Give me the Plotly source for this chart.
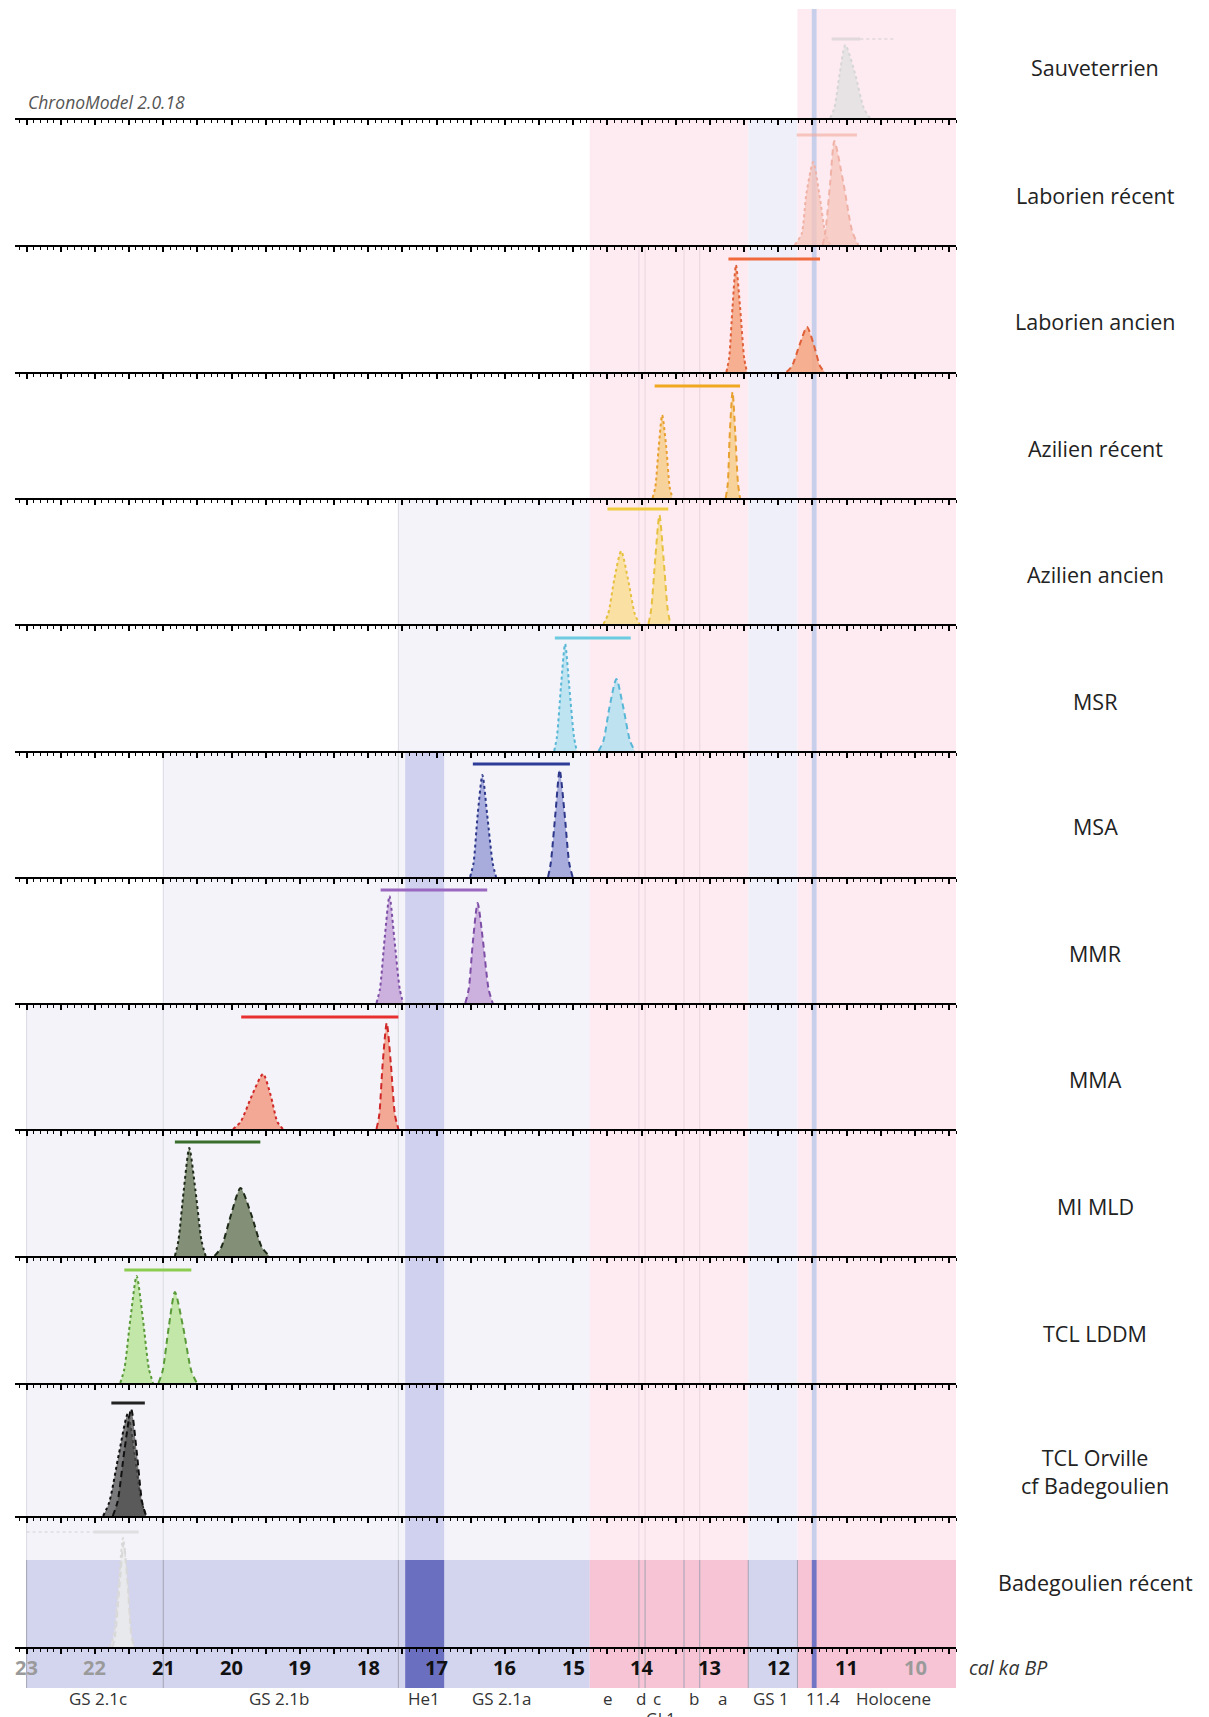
import plotly.graph_objects as go

# ---------------- data ----------------
phases = ["Sauveterrien", "Laborien récent", "Laborien ancien", "Azilien récent",
          "Azilien ancien", "MSR", "MSA", "MMR", "MMA", "MI MLD", "TCL LDDM",
          "TCL Orville<br>cf Badegoulien", "Badegoulien récent"]

# begin-of-phase densities (cal ka BP, relative density)
begin_x = [
    [11.24, 11.18, 11.10, 11.02, 10.88, 10.75, 10.66],
    [11.76, 11.66, 11.59, 11.49, 11.40, 11.31, 11.24],
    [12.76, 12.72, 12.67, 12.62, 12.56, 12.50, 12.46],
    [13.84, 13.80, 13.75, 13.70, 13.64, 13.59, 13.55],
    [14.56, 14.49, 14.40, 14.30, 14.20, 14.10, 14.03],
    [15.28, 15.24, 15.18, 15.12, 15.06, 14.99, 14.95],
    [16.51, 16.46, 16.40, 16.33, 16.26, 16.18, 16.13],
    [17.88, 17.83, 17.76, 17.69, 17.62, 17.54, 17.49],
    [19.98, 19.87, 19.70, 19.54, 19.43, 19.33, 19.25],
    [20.83, 20.78, 20.70, 20.62, 20.53, 20.44, 20.38],
    [21.63, 21.57, 21.48, 21.39, 21.30, 21.21, 21.15],
    [21.88, 21.79, 21.65, 21.52, 21.42, 21.32, 21.25],
    [21.78, 21.72, 21.65, 21.59, 21.53, 21.48, 21.44],
]
begin_y = [
    [0, 0.10, 0.45, 0.73, 0.45, 0.10, 0],
    [0, 0.11, 0.51, 0.83, 0.51, 0.11, 0],
    [0, 0.14, 0.65, 1.07, 0.65, 0.14, 0],
    [0, 0.11, 0.51, 0.83, 0.51, 0.11, 0],
    [0, 0.10, 0.45, 0.73, 0.45, 0.10, 0],
    [0, 0.14, 0.65, 1.07, 0.65, 0.14, 0],
    [0, 0.14, 0.62, 1.02, 0.62, 0.14, 0],
    [0, 0.14, 0.65, 1.07, 0.65, 0.14, 0],
    [0, 0.07, 0.34, 0.55, 0.34, 0.07, 0],
    [0, 0.15, 0.66, 1.08, 0.66, 0.15, 0],
    [0, 0.14, 0.65, 1.07, 0.65, 0.14, 0],
    [0, 0.14, 0.62, 1.02, 0.62, 0.14, 0],
    [0, 0.15, 0.66, 1.09, 0.66, 0.15, 0],
]
# end-of-phase densities
end_x = [
    None,
    [11.35, 11.31, 11.24, 11.18, 11.05, 10.92, 10.83],
    [11.88, 11.80, 11.69, 11.58, 11.48, 11.39, 11.32],
    [12.77, 12.74, 12.71, 12.67, 12.63, 12.59, 12.56],
    [13.90, 13.86, 13.80, 13.74, 13.68, 13.62, 13.58],
    [14.63, 14.56, 14.47, 14.37, 14.27, 14.17, 14.10],
    [15.37, 15.33, 15.26, 15.20, 15.13, 15.06, 15.01],
    [16.58, 16.53, 16.47, 16.40, 16.32, 16.24, 16.18],
    [17.88, 17.84, 17.79, 17.73, 17.67, 17.61, 17.56],
    [20.25, 20.15, 20.01, 19.87, 19.71, 19.56, 19.45],
    [21.07, 21.01, 20.92, 20.83, 20.71, 20.59, 20.51],
    [21.74, 21.67, 21.57, 21.47, 21.39, 21.31, 21.25],
    [21.74, 21.70, 21.64, 21.58, 21.52, 21.47, 21.43],
]
end_y = [
    None,
    [0, 0.14, 0.63, 1.04, 0.63, 0.14, 0],
    [0, 0.06, 0.27, 0.45, 0.27, 0.06, 0],
    [0, 0.14, 0.65, 1.06, 0.65, 0.14, 0],
    [0, 0.15, 0.66, 1.09, 0.66, 0.15, 0],
    [0, 0.10, 0.44, 0.72, 0.44, 0.10, 0],
    [0, 0.14, 0.65, 1.07, 0.65, 0.14, 0],
    [0, 0.14, 0.61, 1.00, 0.61, 0.14, 0],
    [0, 0.14, 0.65, 1.06, 0.65, 0.14, 0],
    [0, 0.09, 0.41, 0.68, 0.41, 0.09, 0],
    [0, 0.12, 0.56, 0.91, 0.56, 0.12, 0],
    [0, 0.14, 0.65, 1.07, 0.65, 0.14, 0],
    [0, 0.14, 0.62, 1.04, 0.62, 0.14, 0],
]
# phase duration intervals (cal ka BP)
bar_start = [11.22, 11.73, 12.73, 13.81, 14.50, 15.27, 16.47, 17.82, 19.86, 20.83, 21.57, 21.76, 22.02]
bar_end = [10.80, 10.85, 11.39, 12.56, 13.61, 14.16, 15.05, 16.26, 17.56, 19.58, 20.59, 21.27, 21.36]
bar_ext_start = [10.80, None, None, None, None, None, None, None, None, None, None, None, 23.00]
bar_ext_end = [10.29, None, None, None, None, None, None, None, None, None, None, None, 22.02]

# climate chronology (cal ka BP)
stadials = [(23.00, 14.76), (12.44, 11.72)]
interstadials = [(14.76, 12.44), (11.72, 9.00)]
he1 = (17.46, 16.89)
event_114 = (11.51, 11.44)
boundaries = [23.00, 21.00, 17.56]
gi1_boundaries = [14.04, 13.95, 13.38, 13.15]
row_start = [11.72, 14.76, 14.76, 14.76, 17.56, 17.56, 21.00, 21.00, 23.00, 23.00, 23.00, 23.00, 23.00]

tick_values = [23, 22, 21, 20, 19, 18, 17, 16, 15, 14, 13, 12, 11, 10]
period_names = ["GS 2.1c", "GS 2.1b", "He1", "GS 2.1a", "e", "d", "c", "b", "a", "GS 1", "11.4", "Holocene"]
period_ka = [21.95, 19.31, 17.19, 16.05, 14.49, 14.01, 13.78, 13.24, 12.81, 12.10, 11.34, 10.32]

# ---------------- style ----------------
line_col = ["#d6d6d6", "#f0b2a6", "#e0603a", "#e8a030", "#e6c040", "#58b6d6", "#2e388a",
            "#7e4ea6", "#d02828", "#1e2a18", "#5a9a38", "#111111", "#d8d8d8"]
fill_col = ["rgba(225,225,225,0.8)", "rgba(246,196,186,0.75)", "rgba(245,165,128,0.85)",
            "rgba(247,206,140,0.85)", "rgba(250,222,150,0.85)", "rgba(180,224,240,0.85)",
            "rgba(160,164,216,0.9)", "rgba(200,170,218,0.9)", "rgba(242,160,138,0.9)",
            "rgba(110,124,96,0.85)", "rgba(190,228,160,0.9)", "rgba(80,80,80,0.75)",
            "rgba(236,236,236,0.6)"]
bar_col = ["#cccccc", "#f2aa9c", "#f06a3c", "#f0a820", "#f2cc40", "#6ccbe0", "#2c3c98",
           "#9a68c0", "#e83030", "#3a6e2c", "#8ccc50", "#222222", "#c8c8c8"]
faded = [0.55, 0.6, 1, 1, 1, 1, 1, 1, 1, 1, 1, 1, 0.45]

PAGE_OFF = 8                      # default page margin around the figure
AXIS_PX = [118, 245, 372, 498, 624, 751, 877, 1003, 1129, 1256, 1383, 1516, 1647]  # page pixels
TOP_PX = 9
PLOT_BOTTOM = 1647                # page pixel of lowest axis
PLOT_H = PLOT_BOTTOM - PAGE_OFF   # plot area height (figure top margin 0)
PLOT_L, PLOT_R = 15, 956          # page pixels
PLOT_W = PLOT_R - PLOT_L
PX_PER_UNIT = 100.0
label_y = [0.5, 0.5, 0.5, 0.5, 0.5, 0.5, 0.5, 0.5, 0.5, 0.5, 0.5, 0.45, 0.65]
XR = [23.17, 9.40]
FONT = "Open Sans"


def py(page_y):
    return (PLOT_BOTTOM - page_y) / PLOT_H


def px(page_x):
    return (page_x - PLOT_L) / PLOT_W


ROW_STADIAL = "#f3f3f9"
ROW_GS1 = "#eeeff8"
ROW_INTER = "#fdebf1"
ROW_HE1 = "#cfd1ee"
ROW_EV = "#c8cfeb"
ROW_LINE = "#dadae4"
BAND_STADIAL = "#d3d4ee"
BAND_INTER = "#f6c4d4"
BAND_HE1 = "#6b6fbf"
BAND_EV = "#7075c4"
BAND_LINE = "#a4a4b4"

fig = go.Figure()
shapes = []
annotations = []
layout = {}

for i in range(13):
    idx = i + 1
    xs = "x" if idx == 1 else f"x{idx}"
    ys = "y" if idx == 1 else f"y{idx}"
    top_px = TOP_PX if i == 0 else AXIS_PX[i - 1]
    bot_px = AXIS_PX[i]
    dom = [py(bot_px), min(1.0, py(top_px))]
    layout["xaxis" if idx == 1 else f"xaxis{idx}"] = dict(
        domain=[0, 1], range=XR, anchor=ys, showline=True, linecolor="black", linewidth=2,
        ticks="outside", tick0=0, dtick=0.5, ticklen=5, tickwidth=1.5, tickcolor="black",
        minor=dict(ticks="outside", tick0=0, dtick=0.1, ticklen=3, tickwidth=1, tickcolor="black"),
        showticklabels=False, showgrid=False, zeroline=False, fixedrange=True)
    layout["yaxis" if idx == 1 else f"yaxis{idx}"] = dict(
        domain=dom, range=[0, (bot_px - top_px) / PX_PER_UNIT], anchor=xs,
        visible=False, fixedrange=True)

    # row backgrounds
    st = row_start[i]
    yd = f"{ys} domain"

    def add_rect(a, b, col):
        if b >= st:
            return
        shapes.append(dict(type="rect", xref=xs, yref=yd, x0=min(a, st), x1=b, y0=0, y1=1,
                           fillcolor=col, line=dict(width=0), layer="below"))
    add_rect(*stadials[0], ROW_STADIAL)
    add_rect(*stadials[1], ROW_GS1)
    for a, b in interstadials:
        add_rect(a, b, ROW_INTER)
    if st >= 21.0:
        add_rect(*he1, ROW_HE1)
    add_rect(*event_114, ROW_EV)
    for bd in boundaries:
        if bd <= st and st >= 17.5:
            shapes.append(dict(type="line", xref=xs, yref=yd, x0=bd, x1=bd, y0=0, y1=1,
                               line=dict(color=ROW_LINE, width=1), layer="below"))
    if i >= 2:
        for bd in gi1_boundaries:
            shapes.append(dict(type="line", xref=xs, yref=yd, x0=bd, x1=bd, y0=0, y1=1,
                               line=dict(color="#ead6de", width=1), layer="below"))

    # densities
    fig.add_trace(go.Scatter(x=begin_x[i], y=begin_y[i], xaxis=xs, yaxis=ys, mode="lines",
                             line=dict(color=line_col[i], width=2, dash="dot", shape="spline", smoothing=0.7),
                             fill="tozeroy", fillcolor=fill_col[i], opacity=faded[i],
                             showlegend=False, hoverinfo="skip"))
    if end_x[i] is not None:
        fig.add_trace(go.Scatter(x=end_x[i], y=end_y[i], xaxis=xs, yaxis=ys, mode="lines",
                                 line=dict(color=line_col[i], width=2, dash="6px,4px", shape="spline", smoothing=0.7),
                                 fill="tozeroy", fillcolor=fill_col[i], opacity=faded[i],
                                 showlegend=False, hoverinfo="skip"))
    ymax = max(begin_y[i] + (end_y[i] or []))
    bar_y = ymax + 0.06
    fig.add_trace(go.Scatter(x=[bar_start[i], bar_end[i]], y=[bar_y, bar_y], xaxis=xs, yaxis=ys,
                             mode="lines", line=dict(color=bar_col[i], width=3),
                             opacity=faded[i], showlegend=False, hoverinfo="skip"))
    if bar_ext_start[i] is not None:
        fig.add_trace(go.Scatter(x=[bar_ext_start[i], bar_ext_end[i]], y=[bar_y, bar_y], xaxis=xs, yaxis=ys,
                                 mode="lines", line=dict(color=bar_col[i], width=2, dash="dot"),
                                 opacity=faded[i] * 0.8, showlegend=False, hoverinfo="skip"))

    annotations.append(dict(text=phases[i], xref="paper", yref=ys, x=px(1095), y=label_y[i],
                            xanchor="center", yanchor="middle", showarrow=False,
                            font=dict(family=FONT, size=21.5, color="#222222")))

# bottom climate band
b_y0 = py(1688)
b_y1 = py(1560)


def band(a, b, col):
    shapes.append(dict(type="rect", xref="x13", yref="paper", x0=a, x1=b, y0=b_y0, y1=b_y1,
                       fillcolor=col, line=dict(width=0), layer="below"))


for a, b in stadials:
    band(a, b, BAND_STADIAL)
for a, b in interstadials:
    band(a, b, BAND_INTER)
band(*he1, BAND_HE1)
band(*event_114, BAND_EV)
for bd in boundaries + gi1_boundaries + [12.44, 11.72]:
    shapes.append(dict(type="line", xref="x13", yref="paper", x0=bd, x1=bd, y0=b_y0, y1=b_y1,
                       line=dict(color=BAND_LINE, width=1), layer="below"))

# bottom tick labels
for v in tick_values:
    col = "#9a9a9a" if v in (23, 22, 10) else "#111111"
    annotations.append(dict(text=f"<b>{v}</b>", xref="x13", yref="paper", x=v,
                            y=py(1667), xanchor="center", yanchor="middle",
                            showarrow=False, font=dict(family=FONT, size=20, color=col)))
for name, k in zip(period_names, period_ka):
    annotations.append(dict(text=name, xref="x13", yref="paper", x=k,
                            y=py(1698), xanchor="center", yanchor="middle",
                            showarrow=False, font=dict(family=FONT, size=17, color="#333333")))
annotations.append(dict(text="GI 1", xref="x13", yref="paper", x=13.73,
                        y=py(1719), xanchor="center", yanchor="middle",
                        showarrow=False, font=dict(family=FONT, size=16, color="#333333")))
annotations.append(dict(text="<i>cal ka BP</i>", xref="paper", yref="paper", x=px(967),
                        y=py(1667), xanchor="left", yanchor="middle",
                        showarrow=False, font=dict(family=FONT, size=19.5, color="#333333")))
annotations.append(dict(text="<i>ChronoModel 2.0.18</i>", xref="paper", yref="paper", x=px(26),
                        y=py(102), xanchor="left", yanchor="middle",
                        showarrow=False, font=dict(family=FONT, size=17.5, color="#555555")))

fig.update_layout(
    width=1209, height=1717,
    margin=dict(l=PLOT_L - PAGE_OFF, r=1209 - (PLOT_R - PAGE_OFF), t=0, b=1717 - PLOT_H),
    paper_bgcolor="white", plot_bgcolor="rgba(0,0,0,0)",
    showlegend=False, shapes=shapes, annotations=annotations,
    **layout,
)
fig.write_html("out.html")
